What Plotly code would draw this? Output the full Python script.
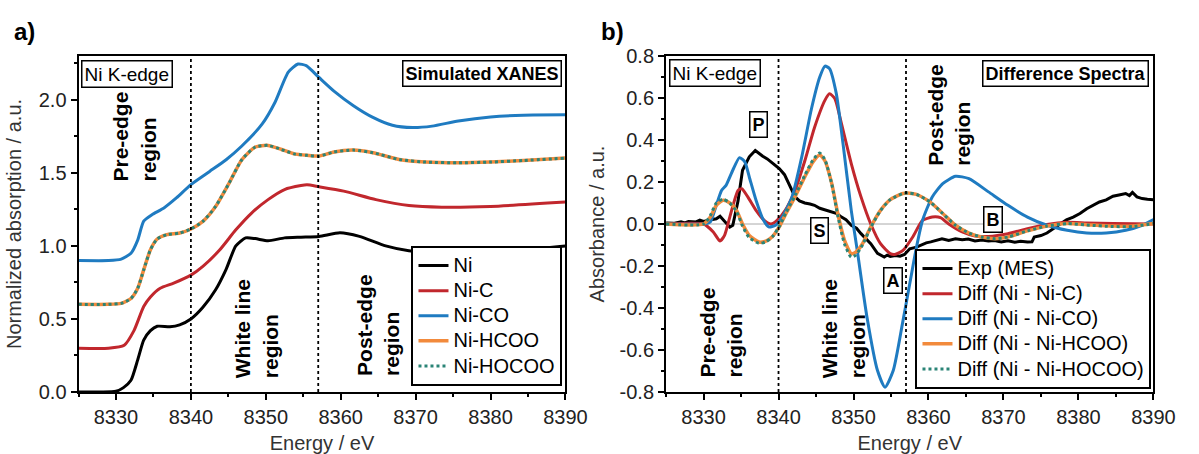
import plotly.graph_objects as go

FONT = "Liberation Sans, Arial, sans-serif"
W, H = 1199, 454

# ---------------- Panel a: simulated XANES ----------------
e_ni = [8325, 8328, 8330, 8331, 8332, 8332.9, 8333.7, 8334.6, 8335.5, 8337.2, 8338.5, 8340, 8341.6, 8343.3, 8344.7,
        8346, 8347.3, 8348.6, 8350.3, 8352.5, 8354.7, 8357.1, 8359.9, 8362.5, 8366, 8369.1, 8373.5, 8380, 8384.4, 8390]
y_ni = [0, 0, 0.005, 0.03, 0.08, 0.22, 0.355, 0.42, 0.45, 0.447, 0.46, 0.50, 0.58, 0.70, 0.84,
        1.0, 1.055, 1.05, 1.035, 1.055, 1.06, 1.065, 1.09, 1.065, 1.0, 0.967, 0.955, 0.967, 0.973, 1.0]

e_nic = [8325, 8329, 8331.1, 8332.4, 8333.7, 8334.6, 8335.9, 8337.7, 8340, 8341.6, 8343.8, 8346, 8348.1, 8350.3,
         8352.5, 8354.7, 8355.5, 8357.1, 8360.4, 8364.7, 8369.1, 8373.5, 8380, 8390]
y_nic = [0.3, 0.3, 0.32, 0.42, 0.585, 0.65, 0.71, 0.745, 0.80, 0.86, 0.97, 1.11, 1.225, 1.317,
         1.386, 1.413, 1.418, 1.405, 1.375, 1.317, 1.276, 1.265, 1.27, 1.30]

e_nico = [8325, 8329, 8330.7, 8332, 8332.9, 8333.7, 8334.8, 8336.4, 8338.1, 8340, 8342.5, 8344.7, 8346.8, 8349.5,
          8351.2, 8353, 8354.3, 8355.4, 8357.1, 8359.1, 8361.7, 8364.3, 8366.9, 8369.6, 8372.2, 8375.7, 8380, 8384.4, 8390]
y_nico = [0.9, 0.9, 0.91, 0.95, 1.04, 1.17, 1.214, 1.26, 1.33, 1.42, 1.51, 1.59, 1.684, 1.833,
          1.98, 2.19, 2.245, 2.234, 2.153, 2.06, 1.96, 1.88, 1.826, 1.81, 1.82, 1.855, 1.883, 1.895, 1.897]

e_hcoo = [8325, 8329, 8330.7, 8332, 8332.9, 8333.7, 8334.6, 8335.5, 8336.8, 8338.5, 8340, 8341.6, 8343.3, 8345.1,
          8346.8, 8348.6, 8350.3, 8352.1, 8353.8, 8355.5, 8357.1, 8359.1, 8361.7, 8364.3, 8367.8, 8371.3, 8375.7,
          8380, 8384.4, 8390]
y_hcoo = [0.6, 0.6, 0.607, 0.64, 0.71, 0.836, 0.974, 1.047, 1.077, 1.088, 1.116, 1.168, 1.27, 1.43,
          1.59, 1.677, 1.688, 1.66, 1.63, 1.62, 1.615, 1.643, 1.656, 1.638, 1.592, 1.574, 1.569,
          1.574, 1.585, 1.601]
e_hocoo = list(e_hcoo)
y_hocoo = [0.6, 0.6, 0.607, 0.64, 0.71, 0.836, 0.974, 1.047, 1.077, 1.088, 1.116, 1.168, 1.27, 1.43,
           1.59, 1.677, 1.688, 1.66, 1.63, 1.62, 1.615, 1.643, 1.656, 1.638, 1.592, 1.574, 1.569,
           1.574, 1.585, 1.601]

# ---------------- Panel b: difference spectra ----------------
e_exp = [8325, 8326, 8327, 8327.5, 8328, 8329, 8329.5, 8330, 8331, 8331.7, 8332.2, 8332.8, 8333.5, 8333.9, 8334.6,
         8335.2, 8336.1, 8336.9, 8337.4, 8337.9, 8338.5, 8339.2, 8340.1, 8340.8, 8341.4, 8342.2, 8342.8, 8343.5,
         8344.2, 8344.8, 8345.5, 8346.2, 8347.1, 8347.8, 8348.4, 8349, 8349.7, 8350.4, 8351, 8351.7, 8352.3,
         8353.2, 8354.1, 8354.5, 8354.9, 8355.6, 8356.2, 8356.8, 8357.5, 8358.4, 8359.7, 8360.3, 8361, 8361.8,
         8362.7, 8363.6, 8364.5, 8365.3, 8366.2, 8367.1, 8368, 8368.8, 8369.7, 8370.6, 8371.5, 8372.3, 8373.2,
         8373.8, 8374.1, 8375, 8375.8, 8376.7, 8377.6, 8378.4, 8379.3, 8380.2, 8381.1, 8382, 8382.8, 8383.7,
         8384.6, 8385.4, 8386.3, 8386.8, 8387.2, 8387.8, 8388.5, 8389.2, 8390]
y_exp = [0.005, 0.003, 0.01, 0.005, 0.012, 0.01, 0.018, 0.012, 0.02, 0.025, 0.037, 0.012, -0.015, -0.006, 0.11,
         0.256, 0.32, 0.35, 0.335, 0.323, 0.31, 0.288, 0.264, 0.235, 0.192, 0.129, 0.11, 0.10,
         0.095, 0.089, 0.075, 0.068, 0.057, 0.05, 0.033, 0.02, -0.006, -0.02, -0.046, -0.07, -0.094,
         -0.14, -0.157, -0.148, -0.154, -0.15, -0.153, -0.145, -0.118, -0.11, -0.09, -0.085, -0.078, -0.07,
         -0.078, -0.07, -0.075, -0.072, -0.081, -0.076, -0.081, -0.079, -0.086, -0.08, -0.087, -0.082, -0.086,
         -0.085, -0.062, -0.055, -0.043, -0.02, 0.002, 0.02, 0.033, 0.05, 0.073, 0.09, 0.105, 0.115,
         0.132, 0.138, 0.145, 0.135, 0.15, 0.129, 0.121, 0.118, 0.116]

e_dc = [8325, 8330, 8331.3, 8332.2, 8332.8, 8333.5, 8334.6, 8335.1, 8335.9, 8337, 8338.1, 8339, 8339.8, 8340.9,
        8342.2, 8343.5, 8344.8, 8346.2, 8346.8, 8347.5, 8348.4, 8349.7, 8351, 8352.3, 8353.6, 8354.9, 8355.5,
        8356.6, 8357.9, 8359.2, 8360.5, 8361.6, 8362.7, 8364.5, 8366.2, 8368, 8370.6, 8373.2, 8375.8, 8378.5,
        8381.1, 8384.6, 8390]
y_dc = [0, 0, -0.038, -0.081, -0.054, 0.033, 0.16, 0.168, 0.129, 0.065, 0.017, 0.0, 0.017, 0.065,
        0.16, 0.30, 0.46, 0.59, 0.62, 0.598, 0.477, 0.288, 0.129, 0.0, -0.094, -0.141, -0.145,
        -0.126, -0.062, 0.017, 0.033, 0.03, 0.0, -0.038, -0.057, -0.059, -0.046, -0.022, -0.002, 0.008,
        0.005, 0.002, 0.0]

e_dco = [8325, 8330, 8330.9, 8331.7, 8332.4, 8333, 8333.9, 8334.8, 8335.5, 8336.1, 8337, 8337.9, 8338.7, 8339.6,
         8340.5, 8341.8, 8343.1, 8344.4, 8345.5, 8346.2, 8346.8, 8347.7, 8348.6, 8349.7, 8350.5, 8351.8, 8353.2,
         8354.2, 8355.3, 8356.6, 8357.5, 8358.4, 8359.2, 8360.5, 8361.9, 8363.6, 8365.4, 8368, 8370.6, 8373.2,
         8375.8, 8378.5, 8381.1, 8383.7, 8386.3, 8388.5, 8390]
y_dco = [0, 0, 0.01, 0.089, 0.16, 0.184, 0.256, 0.316, 0.296, 0.224, 0.113, 0.025, -0.014, -0.006,
         0.033, 0.129, 0.32, 0.55, 0.70, 0.752, 0.74, 0.622, 0.383, 0.065, -0.126, -0.444, -0.698,
         -0.777, -0.698, -0.46, -0.285, -0.11, 0.017, 0.129, 0.192, 0.227, 0.216, 0.153, 0.089, 0.033,
         -0.006, -0.03, -0.043, -0.043, -0.03, -0.006, 0.021]

e_dh = [8325, 8330, 8330.9, 8331.7, 8332.6, 8333.5, 8334.4, 8335.2, 8336.1, 8337.4, 8338.3, 8339.2, 8340.1, 8341,
        8342.2, 8343.5, 8344.6, 8345.5, 8346.2, 8347.1, 8347.9, 8348.8, 8349.7, 8350.3, 8351.2, 8352.3, 8353.6,
        8354.9, 8356.6, 8357.5, 8358.4, 8360.2, 8361.9, 8363.6, 8365.4, 8367.1, 8368.9, 8370.6, 8373.2, 8375.8,
        8378.5, 8381.1, 8384.6, 8387.2, 8390]
y_dh = [0, 0, 0.033, 0.089, 0.113, 0.10, 0.065, 0.0, -0.054, -0.086, -0.081, -0.059, -0.014, 0.05,
        0.129, 0.224, 0.296, 0.328, 0.30, 0.192, 0.05, -0.078, -0.141, -0.134, -0.094, -0.014, 0.065,
        0.116, 0.145, 0.147, 0.141, 0.105, 0.05, -0.006, -0.043, -0.062, -0.07, -0.062, -0.033, -0.01,
        0.002, -0.003, -0.01, -0.01, 0.002]
e_dho = list(e_dh)
y_dho = [0, 0, 0.04, 0.1, 0.118, 0.1, 0.06, -0.01, -0.065, -0.092, -0.085, -0.06, -0.012, 0.055,
         0.135, 0.232, 0.305, 0.338, 0.305, 0.19, 0.04, -0.095, -0.158, -0.148, -0.1, -0.016, 0.064,
         0.116, 0.145, 0.147, 0.141, 0.105, 0.05, -0.006, -0.043, -0.062, -0.07, -0.062, -0.033, -0.01,
         0.002, -0.005, -0.012, -0.012, 0.002]

# tick labels
xticks = [8330, 8340, 8350, 8360, 8370, 8380, 8390]
xticklabels = ["8330", "8340", "8350", "8360", "8370", "8380", "8390"]
ya_ticks = [0.0, 0.5, 1.0, 1.5, 2.0]
ya_labels = ["0.0", "0.5", "1.0", "1.5", "2.0"]
yb_ticks = [-0.8, -0.6, -0.4, -0.2, 0.0, 0.2, 0.4, 0.6, 0.8]
yb_labels = ["-0.8", "-0.6", "-0.4", "-0.2", "0.0", "0.2", "0.4", "0.6", "0.8"]
region_edges = [8340, 8357]

BLACK = "#000000"
RED = "#c1272d"
BLUE = "#1f7bc1"
ORANGE = "#f28a3c"
TEAL = "#2a8476"


def lname(s):
    # legend text drawn at 20px while entry spacing follows the smaller legend font
    return '<span style="font-size:20px">%s</span>' % s


fig = go.Figure()
spl = dict(shape="spline", smoothing=0.6)

# panel a
fig.add_trace(go.Scatter(x=e_ni, y=y_ni, name=lname("Ni"), mode="lines", line=dict(color=BLACK, width=3, **spl),
                         xaxis="x", yaxis="y", legend="legend"))
fig.add_trace(go.Scatter(x=e_nic, y=y_nic, name=lname("Ni-C"), mode="lines", line=dict(color=RED, width=3, **spl),
                         xaxis="x", yaxis="y", legend="legend"))
fig.add_trace(go.Scatter(x=e_nico, y=y_nico, name=lname("Ni-CO"), mode="lines", line=dict(color=BLUE, width=3, **spl),
                         xaxis="x", yaxis="y", legend="legend"))
fig.add_trace(go.Scatter(x=e_hcoo, y=y_hcoo, name=lname("Ni-HCOO"), mode="lines",
                         line=dict(color=ORANGE, width=3.5, **spl), xaxis="x", yaxis="y", legend="legend"))
fig.add_trace(go.Scatter(x=e_hocoo, y=y_hocoo, name=lname("Ni-HOCOO"), mode="lines",
                         line=dict(color=TEAL, width=3, dash="dot", **spl),
                         xaxis="x", yaxis="y", legend="legend"))

# panel b
fig.add_trace(go.Scatter(x=e_exp, y=y_exp, name=lname("Exp (MES)"), mode="lines", line=dict(color=BLACK, width=3),
                         xaxis="x2", yaxis="y2", legend="legend2"))
fig.add_trace(go.Scatter(x=e_dc, y=y_dc, name=lname("Diff (Ni - Ni-C)"), mode="lines",
                         line=dict(color=RED, width=3, **spl), xaxis="x2", yaxis="y2", legend="legend2"))
fig.add_trace(go.Scatter(x=e_dco, y=y_dco, name=lname("Diff (Ni - Ni-CO)"), mode="lines",
                         line=dict(color=BLUE, width=3, **spl), xaxis="x2", yaxis="y2", legend="legend2"))
fig.add_trace(go.Scatter(x=e_dh, y=y_dh, name=lname("Diff (Ni - Ni-HCOO)"), mode="lines",
                         line=dict(color=ORANGE, width=3.5, **spl), xaxis="x2", yaxis="y2", legend="legend2"))
fig.add_trace(go.Scatter(x=e_dho, y=y_dho, name=lname("Diff (Ni - Ni-HOCOO)"), mode="lines",
                         line=dict(color=TEAL, width=3, dash="dot", **spl), xaxis="x2", yaxis="y2", legend="legend2"))

# plot-area geometry (pixels)
TOP, BOT = 56, 392
AX_L, AX_R = 80, 576
BX_L, BX_R = 678.5, 1175


def px(xp):
    return xp / W


def py(yp):
    return (BOT - yp) / (BOT - TOP)


axis_common = dict(showline=True, linecolor="black", linewidth=2, mirror=True, ticks="outside", ticklen=6,
                   tickwidth=1.5, tickcolor="black", showgrid=False, zeroline=False,
                   tickfont=dict(family=FONT, size=20, color="#222222"),
                   title_font=dict(family=FONT, size=20, color="#333333"))

fig.update_layout(
    width=W, height=H, margin=dict(l=0, r=0, t=TOP, b=H - BOT),
    paper_bgcolor="white", plot_bgcolor="white",
    font=dict(family=FONT, size=20, color="black"),
    xaxis=dict(domain=[px(AX_L), px(AX_R)], range=[8325, 8390], tickvals=xticks, ticktext=xticklabels,
               minor=dict(dtick=5, tick0=8325, ticks="outside", ticklen=3, tickcolor="black"),
               title=dict(text="Energy / eV", standoff=10), anchor="y", **axis_common),
    yaxis=dict(domain=[0, 1], range=[0, 2.3], tickvals=ya_ticks, ticktext=ya_labels,
               minor=dict(dtick=0.25, tick0=0, ticks="outside", ticklen=3, tickcolor="black"),
               title=dict(text="Normalized absorption / a.u.", standoff=12), anchor="x", **axis_common),
    xaxis2=dict(domain=[px(BX_L), px(BX_R)], range=[8325, 8390], tickvals=xticks, ticktext=xticklabels,
                minor=dict(dtick=5, tick0=8325, ticks="outside", ticklen=3, tickcolor="black"),
                title=dict(text="Energy / eV", standoff=10), anchor="y2", **axis_common),
    yaxis2=dict(domain=[0, 1], range=[-0.8, 0.8], tickvals=yb_ticks, ticktext=yb_labels,
                minor=dict(dtick=0.1, tick0=0, ticks="outside", ticklen=3, tickcolor="black"),
                title=dict(text="Absorbance / a.u.", standoff=10), anchor="x2", **axis_common),
    legend=dict(x=px(573), y=py(386), xanchor="right", yanchor="bottom", bgcolor="white",
                bordercolor="black", borderwidth=2, font=dict(family=FONT, size=17, color="black"),
                itemwidth=30, tracegroupgap=0),
    legend2=dict(x=px(1173), y=py(389), xanchor="right", yanchor="bottom", bgcolor="white",
                 bordercolor="black", borderwidth=2, font=dict(family=FONT, size=17, color="black"),
                 itemwidth=30, tracegroupgap=0),
    showlegend=True,
)

# zero line in panel b
fig.add_shape(type="line", xref="x2 domain", yref="y2", x0=0, x1=1, y0=0, y1=0,
              line=dict(color="#aaaaaa", width=1), layer="below")

# region boundaries
for xr, yr in (("x", "y domain"), ("x2", "y2 domain")):
    for e in region_edges:
        fig.add_shape(type="line", xref=xr, yref=yr, x0=e, x1=e, y0=0, y1=1,
                      line=dict(color="black", width=1.8, dash="dot"), layer="above")

ann = []
# panel labels
ann.append(dict(text="<b>a)</b>", x=px(12), y=py(31), xref="paper", yref="paper", xanchor="left", yanchor="middle",
                showarrow=False, font=dict(family=FONT, size=24, color="black")))
ann.append(dict(text="<b>b)</b>", x=px(610), y=py(31), xref="paper", yref="paper", xanchor="left", yanchor="middle",
                showarrow=False, font=dict(family=FONT, size=24, color="black")))

box = dict(showarrow=False, bordercolor="black", borderwidth=1.5, borderpad=2, bgcolor="white",
           xref="paper", yref="paper")
ann.append(dict(text="Ni K-edge", x=px(83), y=py(60), xanchor="left", yanchor="top",
                font=dict(family=FONT, size=19, color="black"), **box))
ann.append(dict(text="<b>Simulated XANES</b>", x=px(572), y=py(60), xanchor="right", yanchor="top",
                font=dict(family=FONT, size=18, color="black"), **box))
ann.append(dict(text="Ni K-edge", x=px(681), y=py(59), xanchor="left", yanchor="top",
                font=dict(family=FONT, size=19, color="black"), **box))
ann.append(dict(text="<b>Difference Spectra</b>", x=px(1170), y=py(60), xanchor="right", yanchor="top",
                font=dict(family=FONT, size=18, color="black"), **box))

# boxed markers in panel b (data coordinates)
for lab, ex, vy in (("P", 8337.3, 0.475), ("S", 8345.5, -0.03), ("A", 8355.3, -0.27), ("B", 8368.6, 0.02)):
    ann.append(dict(text="<b>%s</b>" % lab, x=ex, y=vy, xref="x2", yref="y2", xanchor="center", yanchor="middle",
                    showarrow=False, bordercolor="black", borderwidth=1.5, borderpad=2, bgcolor="white",
                    font=dict(family=FONT, size=18, color="black")))

# rotated region labels
rot = dict(showarrow=False, textangle=-90, align="left", xref="paper", yref="paper", xanchor="center",
           yanchor="bottom", font=dict(family=FONT, size=21, color="black"))
for txt, xc, yb in (("<b>Pre-edge<br>region</b>", 137, 183),
                    ("<b>White line<br>region</b>", 260.5, 380),
                    ("<b>Post-edge<br>region</b>", 385, 378),
                    ("<b>Pre-edge<br>region</b>", 734, 380),
                    ("<b>White line<br>region</b>", 858.5, 380),
                    ("<b>Post-edge<br>region</b>", 966.5, 168)):
    ann.append(dict(text=txt, x=px(xc), y=py(yb), **rot))

fig.update_layout(annotations=ann)
fig.write_html("out.html")
